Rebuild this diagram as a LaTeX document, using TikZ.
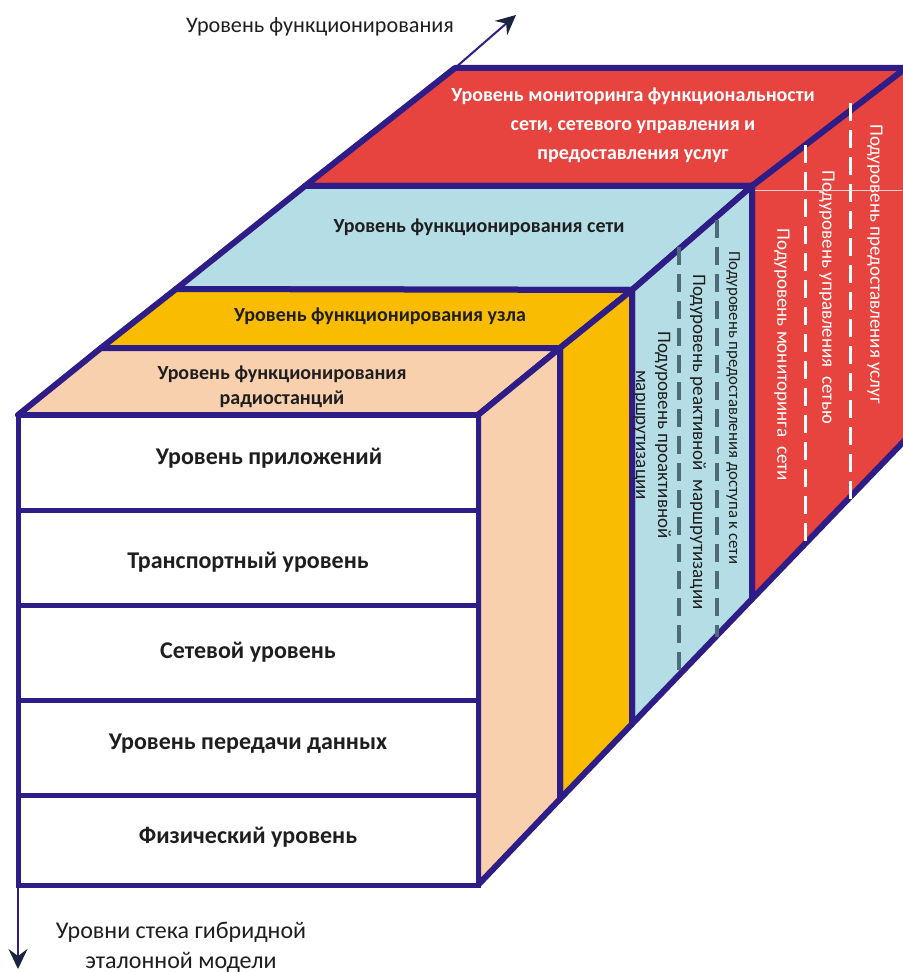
\documentclass[tikz,border=0pt]{standalone}
\usepackage{fontspec}
\setmainfont{Carlito}
\usetikzlibrary{arrows.meta,positioning}
\definecolor{navy}{RGB}{46,28,135}
\definecolor{redlvl}{RGB}{232,68,63}
\definecolor{bluelvl}{RGB}{181,221,230}
\definecolor{orangelvl}{RGB}{249,188,0}
\definecolor{peachlvl}{RGB}{248,208,174}
\definecolor{dashgray}{RGB}{78,107,122}
\definecolor{tipcol}{RGB}{26,35,64}
\definecolor{txt}{RGB}{30,30,30}

\begin{document}
\begin{tikzpicture}[x=1pt,y=-1pt,
  face/.style={draw=navy,line width=6pt,line join=round},
  rowbox/.style={draw=navy,line width=5pt,fill=white,outer sep=0pt,inner sep=0pt,
    minimum width=460pt,minimum height=95pt},
  rowtext/.style={text=txt,font=\fontsize{24}{28}\selectfont\bfseries},
  toptext/.style={align=center,text=txt,font=\fontsize{20}{25}\selectfont\bfseries},
  sidetext/.style={rotate=-90,align=center,text=txt,font=\fontsize{19}{22}\selectfont},
  sep/.style={line width=4pt,dash pattern=on 18pt off 9pt},
  axis/.style={draw=navy,line width=2pt,-{Stealth[length=20pt,width=19pt,inset=7pt,color=tipcol]}},
  axislabel/.style={align=center,text=txt,font=\fontsize{24}{30}\selectfont}]

   \useasboundingbox (0,0) rectangle (902,973);

   % corners of the box
   \coordinate (ftl) at (18,415);
   \coordinate (fbl) at (18,885);
   \coordinate (r0) at (478,415);  \coordinate (b0) at (478,885);
   \coordinate (r1) at (560,348);  \coordinate (b1) at (560,799);  \coordinate (l1) at (101,348);
   \coordinate (r2) at (632,290);  \coordinate (b2) at (632,724);  \coordinate (l2) at (176,289);
   \coordinate (r3) at (752,186);  \coordinate (b3) at (752,599);  \coordinate (l3) at (305,186);
   \coordinate (r4) at (906,68);   \coordinate (b4) at (906,439);  \coordinate (l4) at (455,68);

   % layers, back to front
   \draw[face,fill=redlvl] (l4) -- (r4) -- (r3) -- (l3) -- cycle;
   \draw[face,fill=redlvl] (r3) -- (r4) -- (b4) -- (b3) -- cycle;
   \draw[white!75!redlvl,line width=0.8pt] (755,190) -- (902,190);
   \draw[face,fill=bluelvl] (l3) -- (r3) -- (r2) -- (l2) -- cycle;
   \draw[face,fill=bluelvl] (r2) -- (r3) -- (b3) -- (b2) -- cycle;
   \draw[face,fill=orangelvl] (l2) -- (r2) -- (r1) -- (l1) -- cycle;
   \draw[face,fill=orangelvl] (r1) -- (r2) -- (b2) -- (b1) -- cycle;
   \draw[face,fill=peachlvl] (l1) -- (r1) -- (r0) -- (ftl) -- cycle;
   \draw[face,fill=peachlvl] (r0) -- (r1) -- (b1) -- (b0) -- cycle;

   % sublevel separators
   \draw[sep,dashgray] (679,247) -- (679,677);
   \draw[sep,dashgray] (717,220) -- (717,637);
   \draw[sep,white,line width=3pt] (805,145) -- (805,548);
   \draw[sep,white,line width=3pt] (850,103) -- (850,502);

   % stack levels
   \node[rowbox,anchor=north west] (app) at (ftl) {};
   \node[rowbox,below=0pt of app] (transp) {};
   \node[rowbox,below=0pt of transp] (netw) {};
   \node[rowbox,below=0pt of netw] (link) {};
   \node[rowbox,below=0pt of link,minimum height=90pt] (phys) {};
   \node[rowtext,xshift=21pt,yshift=4pt] (apptext) at (app) {Уровень приложений};
   \node[rowtext,yshift=-5pt] (transptext) at (transp) {Транспортный уровень};
   \node[rowtext] (netwtext) at (netw) {Сетевой уровень};
   \node[rowtext,yshift=4pt] (linktext) at (link) {Уровень передачи данных};
   \node[rowtext,yshift=3pt] (phystext) at (phys) {Физический уровень};

   % functioning levels
   \node[toptext] (radio) at (282,387) {Уровень функционирования\\радиостанций};
   \node[toptext] (nodelvl) at (380,316) {Уровень функционирования узла};
   \node[toptext] (netlvl) at (479,227) {Уровень функционирования сети};
   \node[toptext,text=white,font=\fontsize{20}{29}\selectfont\bfseries] (monlvl) at (633,125)
      {Уровень мониторинга функциональности\\сети, сетевого управления и\\предоставления услуг};

   % sublevels
   \node[sidetext] (proact) at (652,435) {Подуровень проактивной\\маршрутизации};
   \node[sidetext] (react) at (698,442) {Подуровень реактивной\ \ маршрутизации};
   \node[sidetext,font=\fontsize{16.8}{20}\selectfont] (access) at (733,408) {Подуровень предоставления доступа к сети};
   \node[sidetext,text=white] (monit) at (782,355) {Подуровень мониторинга\ \ сети};
   \node[sidetext,text=white] (mgmt) at (827,297) {Подуровень управления\ \ сетью};
   \node[sidetext,text=white] (serv) at (875,264) {Подуровень предоставления услуг};

   % axes
   \coordinate (upend) at (516,15);
   \coordinate (downend) at (18,969);
   \draw[axis] (l4) -- (upend);
   \draw[axis] (fbl) -- (downend);
   \node[axislabel,font=\fontsize{22.2}{30}\selectfont] (uplabel) at (320,27) {Уровень функционирования};
   \node[axislabel] (downlabel) at (181,947) {Уровни стека гибридной\\эталонной модели};
\end{tikzpicture}
\end{document}
